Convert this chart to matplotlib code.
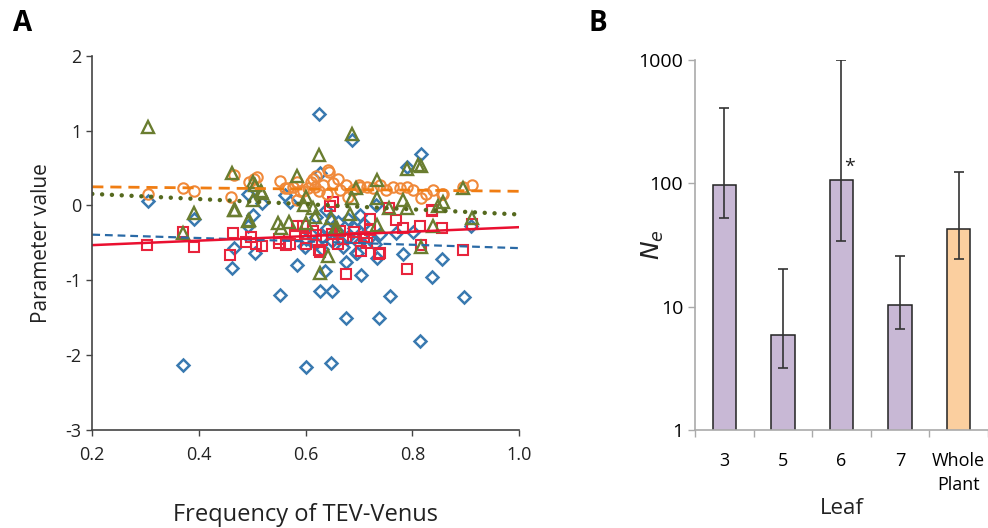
import numpy as np
import matplotlib
matplotlib.use('Agg')
import matplotlib.pyplot as plt
from matplotlib.ticker import FixedLocator, NullFormatter

plt.rcParams['font.family'] = ['Open Sans', 'DejaVu Sans']
plt.rcParams['axes.unicode_minus'] = False
narrow = ['Liberation Sans Narrow', 'Open Sans', 'DejaVu Sans']

# ---- Panel A data ----
blue_x = [0.370, 0.552, 0.626, 0.649, 0.758, 0.897, 0.676, 0.737, 0.814, 0.600, 0.647,
          0.461, 0.505, 0.583, 0.636, 0.676, 0.695, 0.703, 0.733, 0.782, 0.855, 0.837,
          0.625, 0.687, 0.817, 0.789, 0.626, 0.304, 0.390, 0.465, 0.492, 0.502, 0.518,
          0.562, 0.570, 0.492, 0.596, 0.598, 0.696, 0.679, 0.701, 0.650, 0.620, 0.639,
          0.769, 0.801, 0.910, 0.731,
          0.60, 0.61, 0.62, 0.63, 0.64, 0.65, 0.66, 0.67, 0.68, 0.69, 0.70, 0.71, 0.72,
          0.73, 0.74, 0.63, 0.66, 0.71]
blue_y = [-2.13, -1.20, -1.14, -1.15, -1.21, -1.23, -1.50, -1.50, -1.81, -2.16, -2.10,
          -0.83, -0.64, -0.79, -0.88, -0.75, -0.64, -0.93, -0.70, -0.65, -0.72, -0.96,
          1.23, 0.87, 0.69, 0.52, 0.43, 0.06, -0.18, -0.57, -0.27, -0.13, 0.03,
          0.14, 0.05, 0.16, -0.54, -0.55, -0.63, -0.18, -0.13, -0.20, -0.15, -0.06,
          -0.37, -0.35, -0.28, 0.00,
          -0.45, -0.38, -0.50, -0.42, -0.30, -0.48, -0.35, -0.55, -0.42, -0.30, -0.50,
          -0.40, -0.45, -0.52, -0.38, -0.58, -0.22, -0.25]

red_x = [0.303, 0.370, 0.390, 0.464, 0.459, 0.489, 0.498, 0.506, 0.518, 0.550, 0.564,
         0.570, 0.583, 0.651, 0.646, 0.676, 0.789, 0.895, 0.817, 0.720, 0.757, 0.769,
         0.782, 0.815, 0.837, 0.856, 0.912, 0.625, 0.614, 0.601, 0.664, 0.695, 0.704,
         0.739, 0.714, 0.595, 0.626, 0.737, 0.836,
         0.62, 0.63, 0.65, 0.67, 0.69, 0.71, 0.72, 0.60, 0.58, 0.55, 0.66]
red_y = [-0.53, -0.36, -0.55, -0.37, -0.66, -0.49, -0.42, -0.52, -0.54, -0.50, -0.53,
         -0.52, -0.27, 0.05, -0.01, -0.92, -0.85, -0.60, -0.53, -0.18, -0.04, -0.20,
         -0.30, -0.28, -0.06, -0.30, -0.25, -0.60, -0.34, -0.43, -0.34, -0.43, -0.61,
         -0.63, -0.50, -0.28, -0.62, -0.65, -0.08,
         -0.40, -0.46, -0.38, -0.45, -0.36, -0.42, -0.33, -0.52, -0.40, -0.45, -0.52]

orange_x = [0.304, 0.370, 0.390, 0.460, 0.465, 0.493, 0.503, 0.551, 0.567, 0.583, 0.595,
            0.577, 0.589, 0.604, 0.617, 0.633, 0.643, 0.651, 0.664, 0.676, 0.689, 0.701,
            0.714, 0.726, 0.739, 0.751, 0.764, 0.776, 0.789, 0.801, 0.817, 0.826, 0.839,
            0.857, 0.895, 0.912, 0.583, 0.508, 0.561, 0.614, 0.642, 0.625, 0.855,
            0.62, 0.61, 0.66, 0.70, 0.64, 0.68]
orange_y = [0.15, 0.24, 0.20, 0.11, 0.41, 0.31, 0.36, 0.33, 0.23, 0.31, 0.19,
            0.25, 0.19, 0.23, 0.25, 0.27, 0.45, 0.30, 0.21, 0.27, 0.21, 0.25,
            0.25, 0.23, 0.27, 0.21, 0.25, 0.23, 0.25, 0.21, 0.10, 0.16, 0.21,
            0.16, 0.25, 0.27, 0.08, 0.38, 0.23, 0.36, 0.47, 0.19, 0.16,
            0.40, 0.32, 0.35, 0.28, 0.15, 0.12]

olive_x = [0.304, 0.390, 0.370, 0.461, 0.465, 0.494, 0.505, 0.501, 0.518, 0.583, 0.553,
           0.569, 0.601, 0.600, 0.687, 0.625, 0.789, 0.816, 0.734, 0.695, 0.596, 0.686,
           0.733, 0.782, 0.857, 0.895, 0.912, 0.757, 0.839, 0.817, 0.683, 0.642, 0.626,
           0.614, 0.658, 0.733, 0.617, 0.810, 0.648, 0.655, 0.501, 0.517, 0.467, 0.548,
           0.492, 0.848, 0.789]
olive_y = [1.05, -0.10, -0.37, 0.44, -0.06, -0.19, 0.27, 0.08, 0.17, 0.39, -0.30,
           -0.22, -0.23, 0.11, 0.95, 0.68, 0.49, 0.53, 0.34, 0.23, 0.01, 0.10,
           0.10, 0.08, 0.05, 0.23, -0.17, -0.04, -0.28, -0.56, -0.12, -0.68, -0.90,
           -0.04, -0.30, -0.26, -0.15, 0.54, -0.17, -0.32, 0.32, 0.19, -0.06, -0.23,
           -0.21, -0.01, -0.04]

# trend lines: value at x=0.2 and at x=1.0
trend_x = [0.2, 1.0]
orange_trend = [0.25, 0.19]
olive_trend = [0.155, -0.12]
blue_trend = [-0.39, -0.57]
red_trend = [-0.53, -0.29]

# ---- Panel B data ----
leaves = ['3', '5', '6', '7', 'Whole\nPlant']
ne = [97, 5.9, 106, 10.3, 42.7]
ne_low = [52.7, 3.2, 34.3, 6.6, 24.4]
ne_high = [406, 20.3, 1000, 25.9, 123]

fig = plt.figure(figsize=(9.88, 5.28), dpi=100)

# Panel A
ax = fig.add_axes([0.0934, 0.186, 0.432, 0.708])
ax.plot(blue_x, blue_y, 'D', ms=6.2, mfc='white', mec='#3979b0', mew=1.8, ls='none')
ax.plot(red_x, red_y, 's', ms=7.5, mfc='none', mec='#e8243c', mew=1.5, ls='none')
ax.plot(orange_x, orange_y, 'o', ms=7.5, mfc='none', mec='#f0893a', mew=1.5, ls='none')
ax.plot(olive_x, olive_y, '^', ms=8, mfc='none', mec='#6a7d30', mew=1.7, ls='none')

ax.plot(trend_x, orange_trend, color='#f07d12', lw=2, ls=(0, (4, 2.5)))
ax.plot(trend_x, olive_trend, color='#55691e', lw=3.2, ls=(0, (0.01, 2.2)),
        dash_capstyle='round')
ax.plot(trend_x, blue_trend, color='#2a6aa6', lw=1.6, ls=(0, (3.5, 2.2)))
ax.plot(trend_x, red_trend, color='#ea1030', lw=1.8)

ax.set_xlim(0.2, 1.0)
ax.set_ylim(-3, 2)
ax.set_xticks([0.2, 0.4, 0.6, 0.8, 1.0])
ax.set_xticklabels(['0.2', '0.4', '0.6', '0.8', '1.0'])
ax.set_yticks([-3, -2, -1, 0, 1, 2])
for lab in ax.get_xticklabels() + ax.get_yticklabels():
    lab.set_family(narrow)
for s in ['top', 'right']:
    ax.spines[s].set_visible(False)
for s in ['left', 'bottom']:
    ax.spines[s].set_color('#444444')
    ax.spines[s].set_linewidth(1.2)
ax.tick_params(colors='#444444', labelcolor='#222222', labelsize=13, length=4, width=1)
ax.tick_params(axis='x', pad=8)
ax.set_xlabel('Frequency of TEV-Venus', fontsize=17, labelpad=28, color='#222222',
              family=narrow)
ax.set_ylabel('Parameter value', fontsize=15, labelpad=10, color='#222222')

# Panel B
bx = fig.add_axes([0.7034, 0.186, 0.2966, 0.700])
pos = np.arange(len(leaves))
colors = ['#c8b8d5'] * 4 + ['#fbcf9f']
err = [np.array(ne) - np.array(ne_low), np.array(ne_high) - np.array(ne)]
bx.bar(pos, ne, width=0.4, color=colors, edgecolor='#222222', linewidth=1.1, zorder=2)
bx.errorbar(pos, ne, yerr=err, fmt='none', ecolor='#333333', elinewidth=1.2,
            capsize=3.5, capthick=1.2, zorder=3)
bx.text(2.13, 135, '*', fontsize=14, ha='center', va='center', color='#222222')
bx.set_yscale('log')
bx.set_ylim(1, 1000)
bx.set_xlim(-0.5, 4.5)
bx.set_yticks([1, 10, 100, 1000])
bx.set_yticklabels(['1', '10', '100', '1000'])
bx.yaxis.set_minor_locator(FixedLocator([]))
bx.set_xticks(pos)
bx.set_xticklabels(leaves, linespacing=1.45)
bx.xaxis.set_minor_locator(FixedLocator(np.arange(-0.5, 4.6, 1.0)))
bx.xaxis.set_minor_formatter(NullFormatter())
bx.tick_params(axis='x', which='major', length=0, pad=16, labelsize=13)
bx.tick_params(axis='x', which='minor', length=5, color='#aaaaaa', width=1)
bx.tick_params(axis='y', length=5, color='#aaaaaa', labelsize=14, width=1)
for s in ['top', 'right']:
    bx.spines[s].set_visible(False)
for s in ['left', 'bottom']:
    bx.spines[s].set_color('#aaaaaa')
    bx.spines[s].set_linewidth(1.2)
bx.set_xlabel('Leaf', fontsize=16, color='#222222')
bx.xaxis.set_label_coords(0.5, -0.185)
bx.set_ylabel(r'$N_e$', fontsize=18, color='#222222')
bx.yaxis.set_label_coords(-0.10, 0.5)

fig.text(0.013, 0.955, 'A', fontsize=20, fontweight='bold', va='center')
fig.text(0.596, 0.955, 'B', fontsize=20, fontweight='bold', va='center')

fig.savefig('out.png', dpi=100)
